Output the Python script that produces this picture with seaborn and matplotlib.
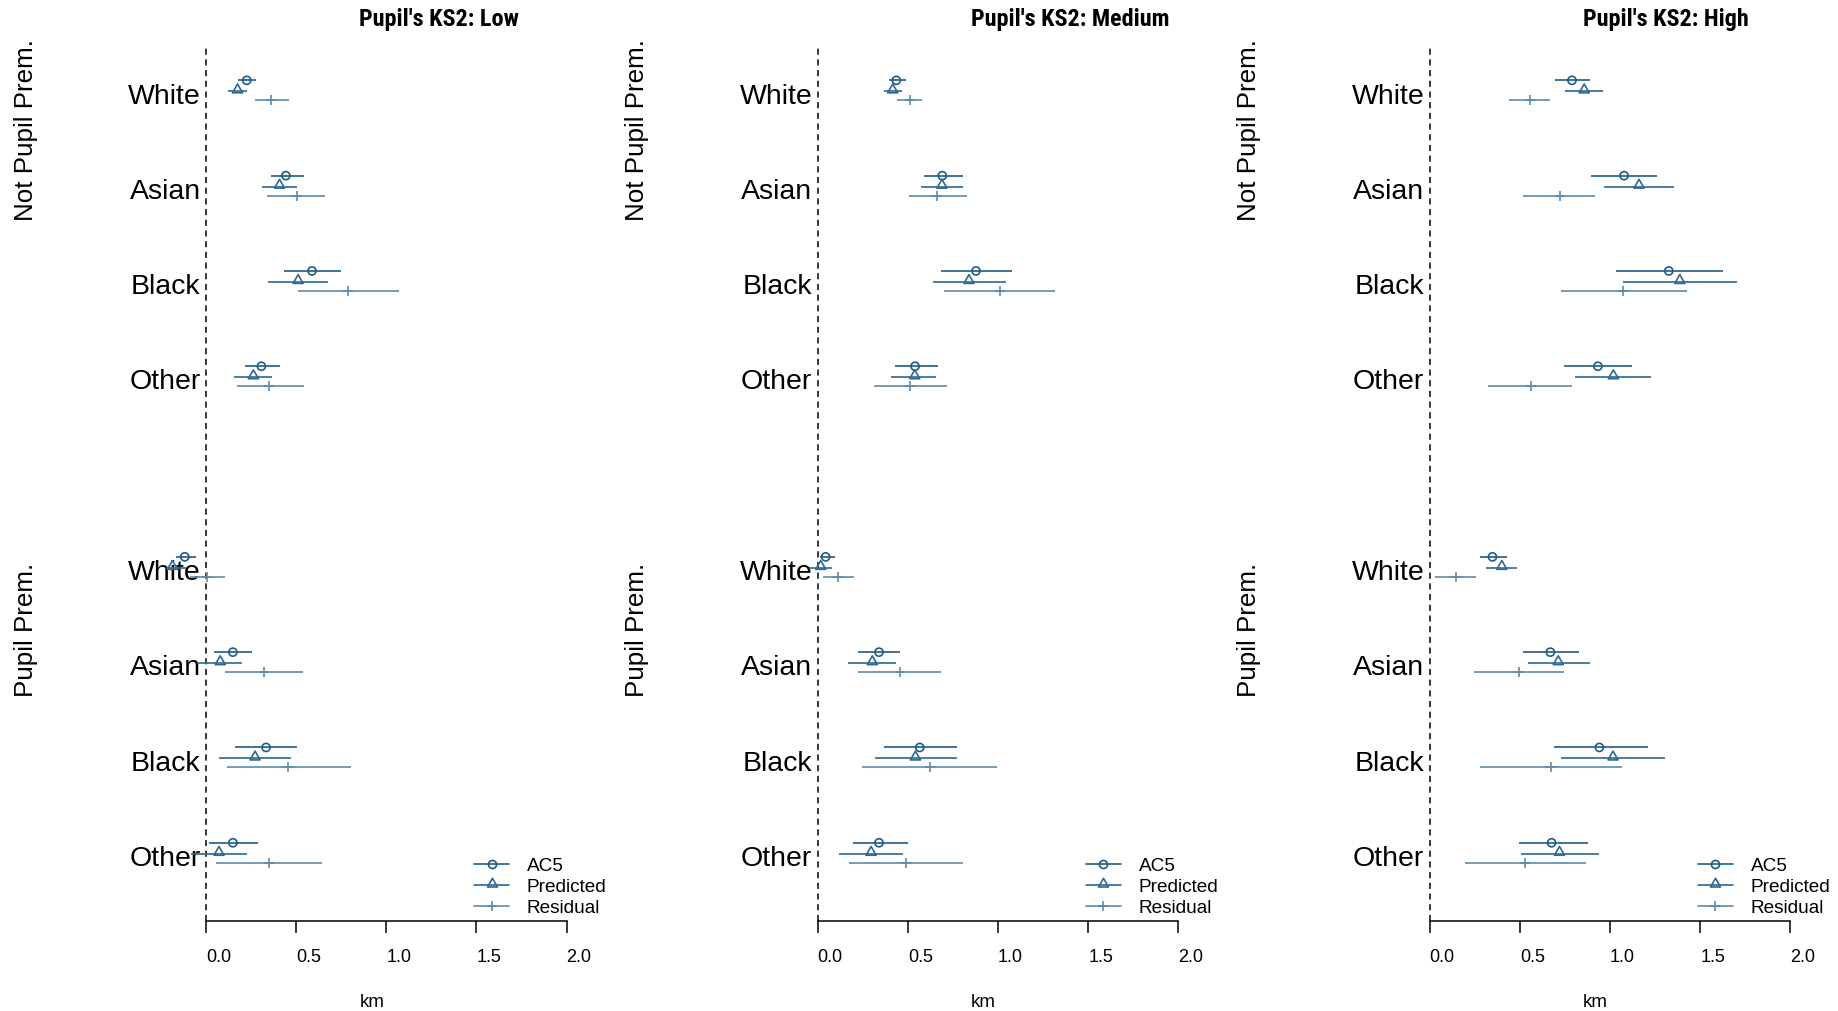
import numpy as np
import pandas as pd
import matplotlib
matplotlib.use("Agg")
import matplotlib.pyplot as plt
from matplotlib.lines import Line2D
from matplotlib.path import Path
from matplotlib import font_manager
import seaborn as sns

# ---------------- data ----------------
panels = ["Low", "Medium", "High"]
groups = ["Not Pupil Prem.", "Pupil Prem."]
ethnicities = ["White", "Asian", "Black", "Other"]
series = ["AC5", "Predicted", "Residual"]
xticks = [0.0, 0.5, 1.0, 1.5, 2.0]
xticklabels = ["0.0", "0.5", "1.0", "1.5", "2.0"]

# order: Not Pupil Prem. (White, Asian, Black, Other), Pupil Prem. (White, Asian, Black, Other)
low_ac5_est = [0.226, 0.443, 0.588, 0.307, -0.118, 0.149, 0.333, 0.149]
low_ac5_lo = [0.18, 0.36, 0.43, 0.215, -0.164, 0.046, 0.16, 0.015]
low_ac5_hi = [0.28, 0.546, 0.746, 0.41, -0.055, 0.257, 0.504, 0.29]
low_pred_est = [0.175, 0.408, 0.511, 0.263, -0.186, 0.079, 0.272, 0.072]
low_pred_lo = [0.12, 0.31, 0.344, 0.154, -0.22, -0.05, 0.07, -0.083]
low_pred_hi = [0.23, 0.504, 0.675, 0.368, -0.11, 0.2, 0.474, 0.226]
low_res_est = [0.36, 0.504, 0.79, 0.35, 0.004, 0.32, 0.456, 0.35]
low_res_lo = [0.27, 0.34, 0.51, 0.17, -0.09, 0.103, 0.118, 0.055]
low_res_hi = [0.46, 0.66, 1.068, 0.546, 0.105, 0.537, 0.803, 0.643]

med_ac5_est = [0.436, 0.691, 0.878, 0.54, 0.044, 0.34, 0.566, 0.34]
med_ac5_lo = [0.397, 0.59, 0.686, 0.429, 0.01, 0.222, 0.366, 0.198]
med_ac5_hi = [0.49, 0.804, 1.076, 0.665, 0.096, 0.457, 0.771, 0.499]
med_pred_est = [0.416, 0.689, 0.839, 0.538, 0.017, 0.303, 0.542, 0.296]
med_pred_lo = [0.368, 0.575, 0.638, 0.407, -0.046, 0.166, 0.318, 0.118]
med_pred_hi = [0.466, 0.804, 1.044, 0.658, 0.078, 0.434, 0.771, 0.473]
med_res_est = [0.512, 0.664, 1.009, 0.512, 0.113, 0.455, 0.625, 0.49]
med_res_lo = [0.438, 0.508, 0.7, 0.31, 0.031, 0.222, 0.246, 0.174]
med_res_hi = [0.579, 0.828, 1.316, 0.715, 0.2, 0.682, 0.994, 0.804]

high_ac5_est = [0.789, 1.078, 1.326, 0.933, 0.348, 0.669, 0.941, 0.676]
high_ac5_lo = [0.696, 0.896, 1.033, 0.744, 0.278, 0.52, 0.687, 0.494]
high_ac5_hi = [0.891, 1.261, 1.628, 1.122, 0.426, 0.828, 1.211, 0.876]
high_pred_est = [0.857, 1.161, 1.387, 1.019, 0.4, 0.713, 1.017, 0.72]
high_pred_lo = [0.752, 0.969, 1.072, 0.807, 0.311, 0.543, 0.726, 0.504]
high_pred_hi = [0.963, 1.357, 1.702, 1.228, 0.483, 0.891, 1.307, 0.939]
high_res_est = [0.554, 0.722, 1.072, 0.561, 0.144, 0.496, 0.672, 0.526]
high_res_lo = [0.439, 0.52, 0.728, 0.326, 0.03, 0.246, 0.278, 0.198]
high_res_hi = [0.667, 0.917, 1.428, 0.787, 0.257, 0.746, 1.067, 0.865]

panel_data = {
    "Low": {"AC5": (low_ac5_est, low_ac5_lo, low_ac5_hi),
            "Predicted": (low_pred_est, low_pred_lo, low_pred_hi),
            "Residual": (low_res_est, low_res_lo, low_res_hi)},
    "Medium": {"AC5": (med_ac5_est, med_ac5_lo, med_ac5_hi),
               "Predicted": (med_pred_est, med_pred_lo, med_pred_hi),
               "Residual": (med_res_est, med_res_lo, med_res_hi)},
    "High": {"AC5": (high_ac5_est, high_ac5_lo, high_ac5_hi),
             "Predicted": (high_pred_est, high_pred_lo, high_pred_hi),
             "Residual": (high_res_est, high_res_lo, high_res_hi)},
}

# ---------------- style ----------------
sns.set_style("white", rc={"text.color": "black", "xtick.color": "black",
                           "axes.labelcolor": "black", "axes.edgecolor": "black"})
plt.rcParams["font.family"] = ["Liberation Sans", "DejaVu Sans"]

# condensed bold font for the panel titles, if one is installed
title_family, title_size = ["Liberation Sans"], 15.2
for cand in ["Liberation Sans Narrow", "DejaVu Sans Condensed", "Roboto Condensed",
             "Open Sans Condensed", "Arial Narrow"]:
    try:
        font_manager.findfont(font_manager.FontProperties(family=cand, weight="bold"),
                              fallback_to_default=False)
        title_family, title_size = [cand, "Liberation Sans"], 17.4
        if cand == "DejaVu Sans Condensed":
            title_size = 15.6
        break
    except Exception:
        continue

colors = {"AC5": "#1f5b86", "Predicted": "#2f6890", "Residual": "#5d8aab"}
# triangle whose base sits on the interval line
tri = Path([(-1.0, -0.3), (1.0, -0.3), (0.0, 1.45), (-1.0, -0.3)],
           [Path.MOVETO, Path.LINETO, Path.LINETO, Path.CLOSEPOLY])
markers = {"AC5": "o", "Predicted": tri, "Residual": "+"}
sizes = {"AC5": 34, "Predicted": 110, "Residual": 60}
msizes = {"AC5": 5.8, "Predicted": 10.4, "Residual": 7.7}
offsets = {"AC5": -0.115, "Predicted": 0.0, "Residual": 0.095}

row_pos = np.array([1, 2, 3, 4, 6, 7, 8, 9], dtype=float)

W, H = 1838, 1012
fig = plt.figure(figsize=(W / 100, H / 100), dpi=100)

px_per_km = 180.3
xmin, xmax = -1.12, 2.25
zero_px = [206.0, 817.7, 1429.7]
top_px, bot_px = 49.0, 922.0
ytop, ybot = 0.5457, 9.706

for pi, pname in enumerate(panels):
    left = (zero_px[pi] + xmin * px_per_km) / W
    width = (xmax - xmin) * px_per_km / W
    ax = fig.add_axes([left, (H - bot_px) / H, width, (bot_px - top_px) / H])

    for s in series:
        est, lo, hi = panel_data[pname][s]
        df = pd.DataFrame({"est": est, "lo": lo, "hi": hi,
                           "y": row_pos + offsets[s]})
        ax.hlines(df["y"], df["lo"], df["hi"], color=colors[s], lw=1.2, zorder=3)
        if s == "Residual":
            sns.scatterplot(data=df, x="est", y="y", marker="+", s=sizes[s],
                            color=colors[s], linewidth=1.2, ax=ax, zorder=4,
                            legend=False)
        else:
            sns.scatterplot(data=df, x="est", y="y", marker=markers[s], s=sizes[s],
                            facecolor="none", edgecolor=colors[s], linewidth=1.2,
                            ax=ax, zorder=4, legend=False)

    ax.axvline(0, color="black", ls=(0, (4, 3)), lw=1.1, zorder=1)

    ax.set_xlim(xmin, xmax)
    ax.set_ylim(ybot, ytop)
    ax.set_xlabel("")
    ax.set_ylabel("")
    ax.set_yticks([])
    for sp in ["left", "top", "right"]:
        ax.spines[sp].set_visible(False)
    ax.spines["bottom"].set_bounds(0, 2)
    ax.spines["bottom"].set_color("black")
    ax.spines["bottom"].set_linewidth(1.1)
    ax.set_xticks(xticks)
    ax.set_xticklabels(xticklabels)
    ax.tick_params(axis="x", length=8.6, width=1.1, color="black", pad=11.2,
                   labelsize=13, labelcolor="black", bottom=True)
    for lbl in ax.get_xticklabels():
        lbl.set_horizontalalignment("left")

    # category labels
    for gi, g in enumerate(groups):
        for ei, e in enumerate(ethnicities):
            ax.text(-0.03, row_pos[gi * 4 + ei] + 0.045, e, ha="right", va="center",
                    fontsize=20.5, color="black", clip_on=False, zorder=2)
        ax.text(-1.0, row_pos[gi * 4] + 1.35, g, rotation=90, ha="center",
                va="bottom", fontsize=18.7, color="black", clip_on=False)

    ax.text(0.85, 0.239, "Pupil's KS2: " + pname, ha="left", va="center",
            fontsize=title_size, fontweight="bold", color="black",
            family=title_family, clip_on=False)
    ax.text(0.92, 10.55, "km", ha="center", va="center", fontsize=13.5,
            color="black", clip_on=False)

    handles = [Line2D([], [], color=colors[s], marker=markers[s], mfc="none",
                      mec=colors[s], markersize=msizes[s], lw=1.2, mew=1.2)
               for s in series]
    ax.legend(handles, series, loc="center left",
              bbox_to_anchor=(1.488, 9.345), bbox_transform=ax.transData,
              frameon=False, fontsize=13.7, handlelength=1.83,
              handletextpad=0.93, labelspacing=0.19, borderpad=0,
              borderaxespad=0, labelcolor="black")

fig.savefig("out.png", dpi=100)
